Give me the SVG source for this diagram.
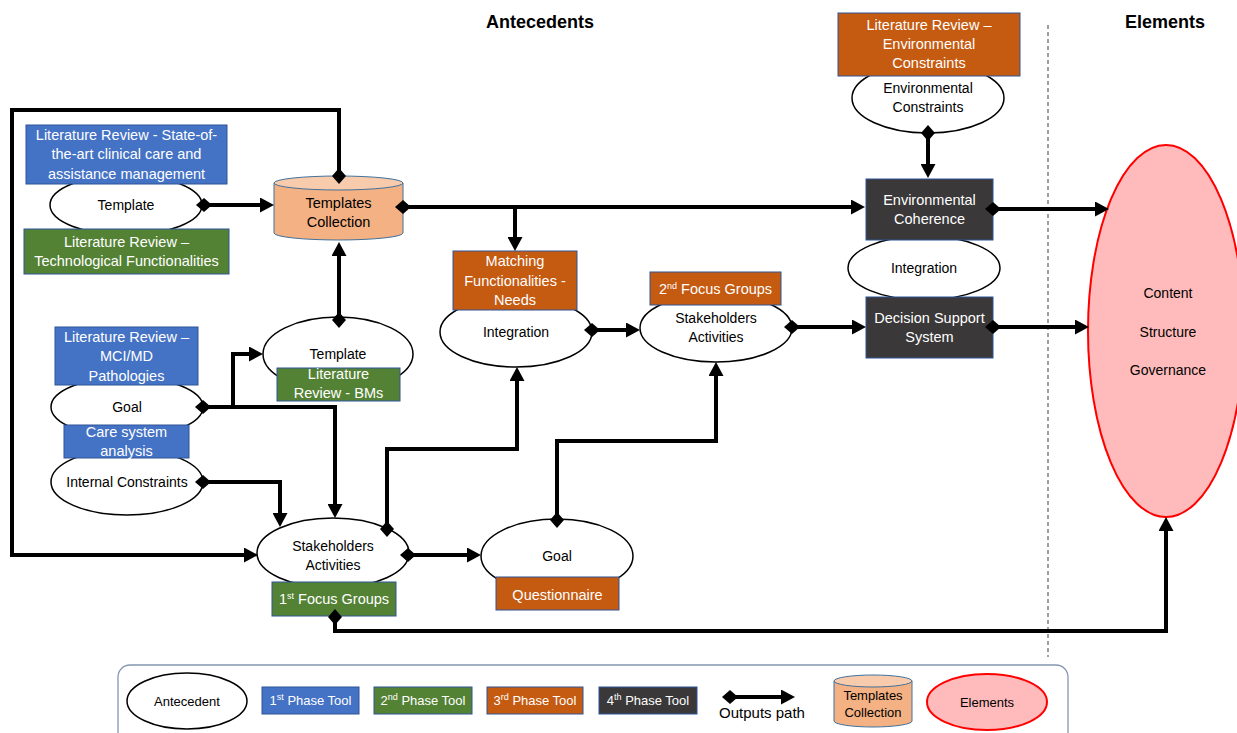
<svg xmlns="http://www.w3.org/2000/svg" width="1237" height="733" viewBox="0 0 1237 733">
<style>
text{font-family:"Liberation Sans",Arial,sans-serif;font-size:14px;text-anchor:middle;fill:#000}
.w{fill:#fff;font-size:14.5px}
.h{font-weight:bold;font-size:18px}
.ant{fill:#fff;stroke:#000;stroke-width:1.5}
.blue{fill:#4472C4;stroke:#2F5597;stroke-width:1}
.green{fill:#548235;stroke:#2F5597;stroke-width:1}
.orange{fill:#C55A11;stroke:#2F5597;stroke-width:1}
.dark{fill:#3A3838;stroke:#2F5597;stroke-width:1}
.cylb{fill:#F4B183;stroke:#41719C;stroke-width:1}
.cylt{fill:#F8CBAD;stroke:#41719C;stroke-width:1}
.elem{fill:#FFBBBB;stroke:#FF0000;stroke-width:2}
.c{fill:none;stroke:#000;stroke-width:4}
.s{font-size:9px}
.lg{font-size:13px}
</style>
<defs>
<marker id="arr" markerUnits="userSpaceOnUse" markerWidth="15" markerHeight="15" refX="1" refY="7.5" orient="auto"><path d="M0,0 L14,7.5 L0,15 z" fill="#000"/></marker>
<marker id="dia" markerUnits="userSpaceOnUse" markerWidth="16" markerHeight="14" refX="8" refY="7" orient="auto"><path d="M0,7 L8,0 L16,7 L8,14 z" fill="#000"/></marker>
</defs>
<rect width="1237" height="733" fill="#fff"/>
<text class="h" x="540" y="28">Antecedents</text>
<text class="h" x="1165" y="28">Elements</text>
<line x1="1048" y1="25" x2="1048" y2="657" stroke="#808080" stroke-width="1.5" stroke-dasharray="4,3"/>

<!-- Antecedent ellipses -->
<g id="template1"><ellipse class="ant" cx="126" cy="205" rx="76" ry="30"/><text x="126" y="210">Template</text></g>
<g id="template2"><ellipse class="ant" cx="338" cy="354" rx="75" ry="37"/><text x="338" y="359">Template</text></g>
<g id="goal1"><ellipse class="ant" cx="127" cy="407" rx="76" ry="30"/><text x="127" y="412">Goal</text></g>
<g id="internal-constraints"><ellipse class="ant" cx="127" cy="482" rx="76" ry="33"/><text x="127" y="487">Internal Constraints</text></g>
<g id="stakeholders1"><ellipse class="ant" cx="333" cy="553" rx="76" ry="35"/><text x="333" y="551">Stakeholders</text><text x="333" y="570">Activities</text></g>
<g id="goal2"><ellipse class="ant" cx="557" cy="556" rx="76" ry="37"/><text x="557" y="561">Goal</text></g>
<g id="integration1"><ellipse class="ant" cx="516" cy="332" rx="76" ry="35"/><text x="516" y="337">Integration</text></g>
<g id="stakeholders2"><ellipse class="ant" cx="716" cy="328" rx="76" ry="34"/><text x="716" y="323">Stakeholders</text><text x="716" y="342">Activities</text></g>
<g id="env-constraints"><ellipse class="ant" cx="928" cy="98" rx="76" ry="35"/><text x="928" y="93">Environmental</text><text x="928" y="112">Constraints</text></g>
<g id="integration2"><ellipse class="ant" cx="924" cy="268" rx="76" ry="32"/><text x="924" y="273">Integration</text></g>

<!-- Templates collection -->
<g id="templates-collection">
<path class="cylb" d="M274,183 V233 A64.5,7 0 0 0 403,233 V183 z"/>
<ellipse class="cylt" cx="338.5" cy="183" rx="64.5" ry="7"/>
<text x="338.5" y="208" style="font-size:14.5px">Templates</text><text x="338.5" y="227" style="font-size:14.5px">Collection</text>
</g>

<!-- Elements -->
<g id="elements"><ellipse class="elem" cx="1166" cy="331" rx="78" ry="186"/>
<text x="1168" y="298">Content</text><text x="1168" y="337">Structure</text><text x="1168" y="375">Governance</text></g>

<!-- Tools -->
<g id="lr-state-of-art"><rect class="blue" x="26" y="125" width="201" height="59"/><text class="w" x="126.5" y="140">Literature Review - State-of-</text><text class="w" x="126.5" y="159">the-art clinical care and</text><text class="w" x="126.5" y="179">assistance management</text></g>
<g id="lr-tech"><rect class="green" x="24" y="229" width="205" height="45"/><text class="w" x="126.5" y="247">Literature Review –</text><text class="w" x="126.5" y="266">Technological Functionalities</text></g>
<g id="lr-mci"><rect class="blue" x="55" y="327" width="143" height="58"/><text class="w" x="126.5" y="342">Literature Review –</text><text class="w" x="126.5" y="361">MCI/MD</text><text class="w" x="126.5" y="381">Pathologies</text></g>
<g id="care-system"><rect class="blue" x="64" y="425" width="125" height="33"/><text class="w" x="126.5" y="437">Care system</text><text class="w" x="126.5" y="456">analysis</text></g>
<g id="lr-bms"><rect class="green" x="277" y="368" width="123" height="33"/><text class="w" x="338.5" y="379">Literature</text><text class="w" x="338.5" y="398">Review - BMs</text></g>
<g id="focus1"><rect class="green" x="272" y="582" width="124" height="34"/><text class="w" x="334" y="604">1<tspan class="s" dy="-5">st</tspan><tspan dy="5"> Focus Groups</tspan></text></g>
<g id="questionnaire"><rect class="orange" x="496" y="577" width="123" height="33"/><text class="w" x="557.5" y="600">Questionnaire</text></g>
<g id="matching"><rect class="orange" x="453" y="251" width="124" height="59"/><text class="w" x="515" y="266">Matching</text><text class="w" x="515" y="286">Functionalities -</text><text class="w" x="515" y="305">Needs</text></g>
<g id="focus2"><rect class="orange" x="650" y="272" width="131" height="33"/><text class="w" x="715.5" y="294">2<tspan class="s" dy="-5">nd</tspan><tspan dy="5"> Focus Groups</tspan></text></g>
<g id="lr-env"><rect class="orange" x="838" y="13" width="182" height="63"/><text class="w" x="929" y="30">Literature Review –</text><text class="w" x="929" y="49">Environmental</text><text class="w" x="929" y="68">Constraints</text></g>
<g id="env-coherence"><rect class="dark" x="866" y="179" width="127" height="61"/><text class="w" x="929.5" y="205">Environmental</text><text class="w" x="929.5" y="224">Coherence</text></g>
<g id="dss"><rect class="dark" x="866" y="297" width="127" height="61"/><text class="w" x="929.5" y="323">Decision Support</text><text class="w" x="929.5" y="342">System</text></g>

<!-- Connectors -->
<g id="connectors">
<path class="c" d="M204,205 H261" marker-start="url(#dia)" marker-end="url(#arr)"/>
<path class="c" d="M339,176 V110 H12 V555 H245" marker-start="url(#dia)" marker-end="url(#arr)"/>
<path class="c" d="M339,320 V255" marker-start="url(#dia)" marker-end="url(#arr)"/>
<path class="c" d="M403,207 H852" marker-start="url(#dia)" marker-end="url(#arr)"/>
<path class="c" d="M515,207 V238" marker-end="url(#arr)"/>
<path class="c" d="M203,407 H335 V505" marker-start="url(#dia)" marker-end="url(#arr)"/>
<path class="c" d="M233,407 V354 H250" marker-end="url(#arr)"/>
<path class="c" d="M203,482 H280 V514" marker-start="url(#dia)" marker-end="url(#arr)"/>
<path class="c" d="M387,529 V449 H517 V380" marker-start="url(#dia)" marker-end="url(#arr)"/>
<path class="c" d="M408,555 H468" marker-start="url(#dia)" marker-end="url(#arr)"/>
<path class="c" d="M557,520 V441 H716 V375" marker-start="url(#dia)" marker-end="url(#arr)"/>
<path class="c" d="M335,617 V631 H1166 V530" marker-start="url(#dia)" marker-end="url(#arr)"/>
<path class="c" d="M592,330 H627" marker-start="url(#dia)" marker-end="url(#arr)"/>
<path class="c" d="M792,327 H853" marker-start="url(#dia)" marker-end="url(#arr)"/>
<path class="c" d="M928,133 V165" marker-start="url(#dia)" marker-end="url(#arr)"/>
<path class="c" d="M993,209 H1096" marker-start="url(#dia)" marker-end="url(#arr)"/>
<path class="c" d="M993,327 H1076" marker-start="url(#dia)" marker-end="url(#arr)"/>
</g>

<!-- Legend -->
<g id="legend">
<rect x="118" y="665" width="950" height="85" rx="12" fill="none" stroke="#8497B0" stroke-width="1.3"/>
<ellipse class="ant" cx="187" cy="701" rx="60" ry="28"/><text class="lg" x="187" y="706">Antecedent</text>
<rect class="blue" x="262" y="687" width="97" height="27"/><text class="lg" x="310.5" y="705" fill="#fff" style="fill:#fff">1<tspan class="s" dy="-5">st</tspan><tspan dy="5"> Phase Tool</tspan></text>
<rect class="green" x="374" y="687" width="98" height="27"/><text class="lg" x="423" y="705" style="fill:#fff">2<tspan class="s" dy="-5">nd</tspan><tspan dy="5"> Phase Tool</tspan></text>
<rect class="orange" x="487" y="687" width="96" height="27"/><text class="lg" x="535" y="705" style="fill:#fff">3<tspan class="s" dy="-5">rd</tspan><tspan dy="5"> Phase Tool</tspan></text>
<rect class="dark" x="599" y="687" width="98" height="27"/><text class="lg" x="648" y="705" style="fill:#fff">4<tspan class="s" dy="-5">th</tspan><tspan dy="5"> Phase Tool</tspan></text>
<path class="c" d="M730,697 H782" marker-start="url(#dia)" marker-end="url(#arr)"/>
<text x="762" y="718" style="font-size:15px">Outputs path</text>
<path class="cylb" d="M834,681 V721 A39,6 0 0 0 912,721 V681 z"/>
<ellipse class="cylt" cx="873" cy="681" rx="39" ry="6"/>
<text class="lg" x="873" y="700">Templates</text><text class="lg" x="873" y="717">Collection</text>
<ellipse class="elem" cx="987" cy="702" rx="60" ry="28"/><text class="lg" x="987" y="707">Elements</text>
</g>
</svg>
